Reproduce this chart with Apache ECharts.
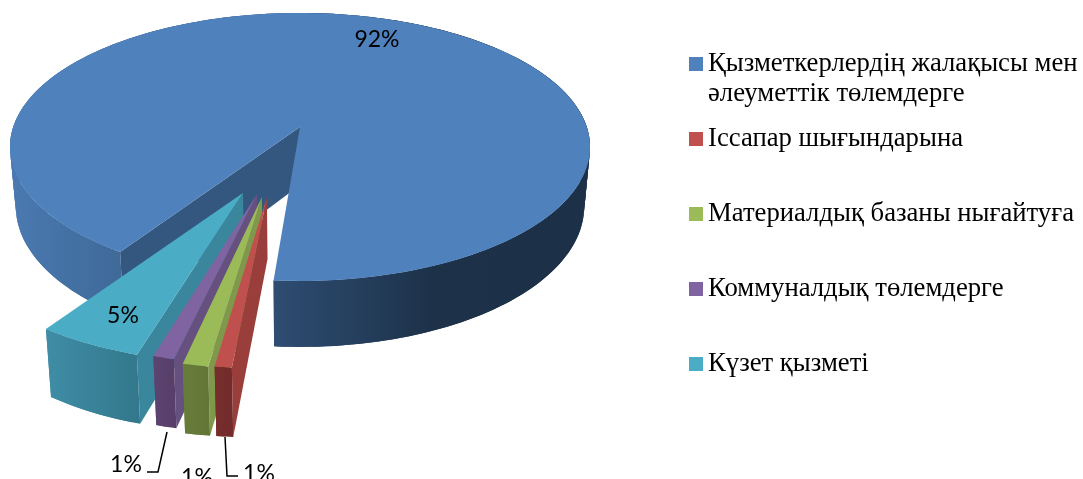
<!DOCTYPE html>
<html><head><meta charset="utf-8">
<style>html,body{margin:0;padding:0;background:#fff;overflow:hidden}#c{width:1083px;height:479px}</style>
<script src="https://cdn.jsdelivr.net/npm/echarts@6/dist/echarts.min.js"></script>
</head><body><div id="c"></div>
<script>
const categories = ['Қызметкерлердің жалақысы мен','Іссапар шығындарына','Материалдық базаны нығайтуға','Коммуналдық төлемдерге','Күзет қызметі'];
const categorySecondLine = 'әлеуметтік төлемдерге';
const values = [92,0.8,1.2,1.0,5];

const topColors = ['#4f81bd','#c0504d','#9bbb59','#8064a2','#4bacc6'];
const cutWallColors = ['#34577f','#9a3e3b','#7f984a','#65507f','#3a869c'];
const outerWallColors = [['#4a79b0','#3e6998'],['#762e2d','#732c2b'],['#687c3a','#637637'],['#5c4470','#573f6a'],['#3f8da6','#33788c']];
const labelBoxes = [[377,40],[259,474],[197,478],[126,465],[123,316]];
const leaders = [null,[[225,437],[227,476],[238,476]],null,[[167,432],[158,472],[147,472]],null];
const explodeOffsets = [[0,0],[-0.107,-0.495],[-0.123,-0.495],[-0.139,-0.475],[-0.185,-0.469]];
const sliceRotation = [0,0.3,0.4,1,1];
const seriesZ = [1,9,8,7,6];

// perspective projection of the pie's plane
const AP = [300,127], A = 131, B = 286.8, K = 0.149;
const START = 4.5, SMALL_RADIUS = 0.95;
const total = values.reduce((a,b)=>a+b,0);
function proj(x,y){const s=1+K*y;return [AP[0]+B*x/s, AP[1]-A*y/s];}
function down(p,y){return [p[0]+(AP[0]-p[0])*0.02, p[1]+58-8*y];}
function range(i){
  let acc=0; for(let k=1;k<=i;k++) acc+=values[k];
  if(i===0) return [START+(total-values[0])/total*360, START+360];
  return [START+(acc-values[i])/total*360+sliceRotation[i], START+acc/total*360+sliceRotation[i]];
}
function pt(phi,r,o){const a=phi*Math.PI/180;return [o[0]-r*Math.sin(a), o[1]-r*Math.cos(a)];}
function arc(a0,a1,o,r){const n=Math.max(2,Math.ceil((a1-a0)/1.5));const out=[];for(let j=0;j<=n;j++){out.push(pt(a0+(a1-a0)*j/n,r,o));}return out;}
const P=q=>proj(q[0],q[1]);
const D=q=>down(proj(q[0],q[1]),q[1]);
const grad=(x0,x1,c)=>new echarts.graphic.LinearGradient(x0,0,x1,0,c.map((col,i)=>({offset:i/(c.length-1),color:col})),true);
const poly=(points,fill)=>({type:'polygon',shape:{points},style:{fill,stroke:null}});

function renderSlice(params,api){
  const i=params.seriesIndex, v=api.value(0);
  const [a0,a1]=range(i);
  const o=explodeOffsets[i];
  const r=i===0?1:SMALL_RADIUS;
  const children=[];
  const strip=(from,to,x0,x1,cols)=>{
    const q=arc(from,to,o,r), fill=grad(x0,x1,cols);
    for(let j=0;j<q.length-1;j++){
      const k=Math.min(j+2,q.length-1);
      children.push(poly([P(q[j]),P(q[j+1]),P(q[k]),D(q[k]),D(q[j+1]),D(q[j])],fill));
    }
  };
  if(i===0){
    const e=pt(a0,r,o);
    strip(a0,180,16,122,outerWallColors[0]);
    strip(180,a1,274,590,['#2e4d72','#253f5e','#1d3249','#1c3048','#1c3048']);
    children.push(poly([P(o),P(e),D(e),D(o)],cutWallColors[0]));
  }else{
    const e=pt(a0,r,o), f=pt(a1,r,o);
    children.push(poly([P(o),P(e),D(e),D(o)],cutWallColors[i]));
    strip(a0,a1,P(f)[0],P(e)[0],outerWallColors[i]);
  }
  children.push(poly([P(o)].concat(arc(a0,a1,o,r).map(P)),topColors[i]));
  const lab=labelBoxes[i];
  if(leaders[i]) children.push({type:'polyline',shape:{points:leaders[i]},style:{stroke:'#000',lineWidth:1.5,fill:null}});
  children.push({type:'text',style:{text:Math.round(v)+'%',x:lab[0],y:lab[1],align:'center',verticalAlign:'middle',font:'23px Lato',fill:'#000'}});
  return {type:'group',children};
}

const chart=echarts.init(document.getElementById('c'),null,{renderer:'canvas'});
chart.setOption({
  animation:false,
  backgroundColor:'#fff',
  legend:{
    orient:'vertical',left:689,top:49,selectedMode:false,icon:'rect',itemWidth:14,itemHeight:14,itemGap:45,
    padding:0,
    textStyle:{fontFamily:'Liberation Serif',fontSize:26.7,color:'#000',lineHeight:30,padding:[0,0,0,0]},
    data:categories
  },
  graphic:[{type:'text',left:708,top:80,style:{text:categorySecondLine,font:'26.7px "Liberation Serif"',fill:'#000'}}],
  series:categories.map((name,i)=>({
    type:'custom',name,coordinateSystem:'none',data:[[values[i]]],z:seriesZ[i],
    itemStyle:{color:topColors[i]},renderItem:renderSlice,silent:true
  }))
});
</script></body></html>
